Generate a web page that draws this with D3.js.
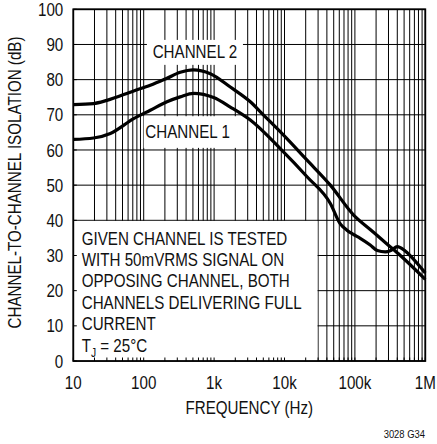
<!DOCTYPE html>
<meta charset="utf-8">
<script src="https://d3js.org/d3.v7.min.js"></script>
<style>
body { margin: 0; background: #fff; }
svg { display: block; }
text { font-family: "Liberation Sans", Arial, sans-serif; fill: #111; }
.grid line { stroke: #000; stroke-width: 1; }
.curve { fill: none; stroke: #000; stroke-width: 3.2; stroke-linejoin: round; }
</style>
<body>
<div class="chart"></div>
<script>

// Channel isolation data (frequency in Hz, isolation in dB)
var freqCh1 = [10, 19.4, 33.6, 72, 124, 214, 330, 512, 984, 1700, 3270, 8710, 20900, 44800,
               62000, 77000, 95000, 119000, 165000, 208000, 270000, 329000, 400000, 504000, 653000, 1000000];
var isoCh1  = [63.0, 63.4, 64.7, 68.9, 71.3, 73.7, 75.1, 76.1, 74.9, 72.2, 68.5, 60.4, 52.4, 44.8,
               39.0, 37.2, 36.0, 34.9, 33.0, 31.4, 31.0, 31.5, 32.5, 31.5, 29.3, 25.0];
var freqCh2 = [10, 19.4, 30, 72, 124, 214, 331, 507, 883, 1700, 3270, 5050, 9700, 20900,
               44800, 95900, 165000, 288000, 442000, 1000000];
var isoCh2  = [72.9, 73.2, 74.1, 76.8, 78.4, 80.4, 82.1, 82.8, 81.7, 77.9, 73.7, 69.9, 64.2, 57.1,
               50.0, 41.5, 37.4, 33.2, 30.0, 23.2];

var xTicks = [10, 100, 1e3, 1e4, 1e5, 1e6],
    xTickLabels = ["10", "100", "1k", "10k", "100k", "1M"],
    yTicks = [0, 10, 20, 30, 40, 50, 60, 70, 80, 90, 100];

var noteLines = ["GIVEN CHANNEL IS TESTED", "WITH 50mVRMS SIGNAL ON",
                 "OPPOSING CHANNEL, BOTH", "CHANNELS DELIVERING FULL", "CURRENT"];

var width = 437, height = 444,
    margin = {top: 9.3, right: 11.7, bottom: 83, left: 73.3},
    innerW = width - margin.left - margin.right,
    innerH = height - margin.top - margin.bottom,
    fontSize = 18.5,
    squeeze = 0.82;   // condensed look of the original lettering

var svg = d3.select(".chart").append("svg")
    .attr("width", width)
    .attr("height", height);

var g = svg.append("g")
    .attr("transform", "translate(" + margin.left + "," + margin.top + ")");

var x = d3.scaleLog().domain([10, 1e6]).range([0, innerW]);
var y = d3.scaleLinear().domain([0, 100]).range([innerH, 0]);

// condensed text helper
function label(parent, px, py, str, anchor, size, rot) {
  return parent.append("text")
      .attr("transform", "translate(" + px + "," + py + ")" + (rot ? " rotate(" + rot + ")" : "") +
            " scale(" + squeeze + ",1)")
      .attr("text-anchor", anchor || "start")
      .attr("font-size", size || fontSize)
      .text(str);
}

// every 1..9 step of each decade
var gridFreqs = [];
xTicks.forEach(function(d) {
  if (d === 1e6) { gridFreqs.push(d); return; }
  for (var k = 1; k < 10; k++) gridFreqs.push(d * k);
});

// grid
var grid = g.append("g").attr("class", "grid");
grid.selectAll(".vx").data(gridFreqs).enter().append("line")
    .attr("x1", function(d) { return x(d); })
    .attr("x2", function(d) { return x(d); })
    .attr("y1", 0).attr("y2", innerH);
grid.selectAll(".hy").data(yTicks).enter().append("line")
    .attr("x1", 0).attr("x2", innerW)
    .attr("y1", function(d) { return y(d); })
    .attr("y2", function(d) { return y(d); });

// white boxes behind the labels
g.append("rect")
    .attr("x", x(111)).attr("y", y(91.3))
    .attr("width", x(2570) - x(111)).attr("height", y(84.2) - y(91.3))
    .attr("fill", "#fff");
g.append("rect")
    .attr("x", x(100)).attr("y", y(69.6))
    .attr("width", x(2250) - x(100)).attr("height", y(60.6) - y(69.6))
    .attr("fill", "#fff");
g.append("rect")
    .attr("x", 0).attr("y", y(40) + 0.6)
    .attr("width", x(30000) - 0.6).attr("height", innerH - y(40) - 0.6)
    .attr("fill", "#fff");

// small inside ticks
g.selectAll(".xtick").data(gridFreqs).enter().append("line")
    .attr("x1", function(d) { return x(d); })
    .attr("x2", function(d) { return x(d); })
    .attr("y1", innerH).attr("y2", innerH - 3.5)
    .attr("stroke", "#000");
g.selectAll(".ytick").data(yTicks).enter().append("line")
    .attr("x1", 0).attr("x2", 3.5)
    .attr("y1", function(d) { return y(d); })
    .attr("y2", function(d) { return y(d); })
    .attr("stroke", "#000");

// curves
var line = d3.line()
    .x(function(d) { return x(d[0]); })
    .y(function(d) { return y(d[1]); })
    .curve(d3.curveMonotoneX);

g.append("path").attr("class", "curve")
    .attr("d", line(d3.zip(freqCh1, isoCh1)));
g.append("path").attr("class", "curve")
    .attr("d", line(d3.zip(freqCh2, isoCh2)));

// border
g.append("rect")
    .attr("width", innerW).attr("height", innerH)
    .attr("fill", "none").attr("stroke", "#000").attr("stroke-width", 1.8);

// curve labels
label(g, x(500) + 2, y(86.2), "CHANNEL 2", "middle");
label(g, x(420), y(63.3), "CHANNEL 1", "middle");

// note
noteLines.forEach(function(s, i) {
  label(g, 8.4, 235.2 + i * 21.4, s);
});
var tj = label(g, 8.4, 235.2 + 5 * 21.4, "T");
tj.append("tspan").attr("font-size", 12.5).attr("dy", 5).text("J");
tj.append("tspan").attr("dy", -5).text(" = 25°C");

// axis labels
xTicks.forEach(function(d, i) {
  label(g, x(d), innerH + 27.5, xTickLabels[i], "middle");
});
yTicks.forEach(function(d) {
  label(g, -10, y(d), d, "end").attr("dy", "0.36em");
});

label(g, innerW / 2, innerH + 53, "FREQUENCY (Hz)", "middle");
label(g, 20.5 - margin.left, 182.5 - margin.top, "CHANNEL-TO-CHANNEL ISOLATION (dB)", "middle", fontSize, -90);

label(svg, 425, 438, "3028 G34", "end", 11.5);

</script>
</body>
</html>
